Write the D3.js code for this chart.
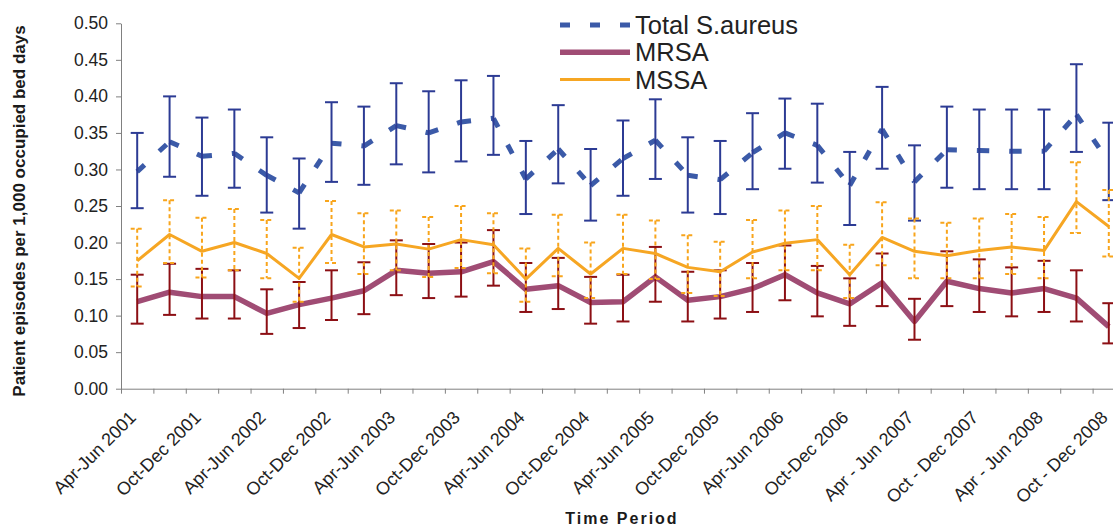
<!DOCTYPE html>
<html>
<head>
<meta charset="utf-8">
<script src="https://cdn.jsdelivr.net/npm/d3@7"></script>
<style>
  body { margin: 0; background: #fff; }
  svg { display: block; font-family: Arial, "Liberation Sans", sans-serif; }
</style>
</head>
<body>
<div id="chart"></div>
<script>
// quarters shown on the x axis
const categories = [
  'Apr-Jun 2001', 'Jul-Sep 2001', 'Oct-Dec 2001',
  'Jan-Mar 2002', 'Apr-Jun 2002', 'Jul-Sep 2002', 'Oct-Dec 2002',
  'Jan-Mar 2003', 'Apr-Jun 2003', 'Jul-Sep 2003', 'Oct-Dec 2003',
  'Jan-Mar 2004', 'Apr-Jun 2004', 'Jul-Sep 2004', 'Oct-Dec 2004',
  'Jan-Mar 2005', 'Apr-Jun 2005', 'Jul-Sep 2005', 'Oct-Dec 2005',
  'Jan-Mar 2006', 'Apr-Jun 2006', 'Jul-Sep 2006', 'Oct-Dec 2006',
  'Jan-Mar 2007', 'Apr - Jun 2007', 'Jul - Sep 2007', 'Oct - Dec 2007',
  'Jan - Mar 2008', 'Apr - Jun 2008', 'Jul - Sep 2008', 'Oct - Dec 2008'
];
// only every other quarter carries a label
const tickLabels = [
  'Apr-Jun 2001', 'Oct-Dec 2001', 'Apr-Jun 2002', 'Oct-Dec 2002',
  'Apr-Jun 2003', 'Oct-Dec 2003', 'Apr-Jun 2004', 'Oct-Dec 2004',
  'Apr-Jun 2005', 'Oct-Dec 2005', 'Apr-Jun 2006', 'Oct-Dec 2006',
  'Apr - Jun 2007', 'Oct - Dec 2007', 'Apr - Jun 2008', 'Oct - Dec 2008'
];
const yTicks = [0, 0.05, 0.10, 0.15, 0.20, 0.25, 0.30, 0.35, 0.40, 0.45, 0.50];

// Total S.aureus rate and 95% CI
const totalRate = [0.297, 0.338, 0.318, 0.322, 0.292, 0.268, 0.336, 0.332, 0.360, 0.350, 0.365,
  0.370, 0.287, 0.328, 0.278, 0.315, 0.340, 0.292, 0.286, 0.323, 0.350, 0.333, 0.278, 0.355,
  0.283, 0.327, 0.326, 0.325, 0.325, 0.375, 0.310];
const totalUpper = [0.350, 0.400, 0.371, 0.382, 0.344, 0.315, 0.392, 0.386, 0.418, 0.407, 0.422,
  0.428, 0.339, 0.388, 0.328, 0.367, 0.396, 0.344, 0.339, 0.377, 0.397, 0.390, 0.324, 0.413,
  0.333, 0.386, 0.382, 0.382, 0.382, 0.444, 0.364];
const totalLower = [0.247, 0.290, 0.264, 0.275, 0.241, 0.219, 0.283, 0.279, 0.307, 0.296, 0.311,
  0.320, 0.239, 0.281, 0.230, 0.264, 0.287, 0.241, 0.239, 0.273, 0.301, 0.282, 0.224, 0.301,
  0.230, 0.275, 0.273, 0.273, 0.273, 0.324, 0.258];

// MRSA
const mrsaRate = [0.119, 0.132, 0.126, 0.126, 0.103, 0.115, 0.124, 0.134, 0.162, 0.158, 0.160,
  0.174, 0.136, 0.141, 0.118, 0.119, 0.153, 0.121, 0.126, 0.137, 0.156, 0.131, 0.116, 0.145,
  0.092, 0.147, 0.137, 0.131, 0.137, 0.124, 0.085];
const mrsaUpper = [0.156, 0.171, 0.164, 0.162, 0.136, 0.146, 0.162, 0.173, 0.203, 0.198, 0.200,
  0.217, 0.172, 0.179, 0.153, 0.156, 0.194, 0.160, 0.162, 0.172, 0.196, 0.168, 0.151, 0.185,
  0.123, 0.188, 0.177, 0.166, 0.175, 0.162, 0.117];
const mrsaLower = [0.089, 0.101, 0.096, 0.096, 0.075, 0.083, 0.094, 0.102, 0.128, 0.124, 0.126,
  0.141, 0.105, 0.109, 0.089, 0.092, 0.119, 0.092, 0.096, 0.105, 0.121, 0.099, 0.086, 0.113,
  0.067, 0.113, 0.105, 0.099, 0.105, 0.092, 0.062];

// MSSA
const mssaRate = [0.175, 0.211, 0.188, 0.200, 0.185, 0.151, 0.211, 0.194, 0.198, 0.191, 0.204,
  0.197, 0.150, 0.192, 0.157, 0.192, 0.185, 0.166, 0.160, 0.187, 0.199, 0.204, 0.156, 0.207,
  0.188, 0.182, 0.189, 0.194, 0.189, 0.256, 0.222];
const mssaUpper = [0.219, 0.258, 0.234, 0.246, 0.231, 0.193, 0.257, 0.240, 0.244, 0.235, 0.250,
  0.240, 0.192, 0.238, 0.200, 0.238, 0.230, 0.210, 0.201, 0.231, 0.244, 0.250, 0.197, 0.255,
  0.233, 0.227, 0.233, 0.239, 0.235, 0.310, 0.272];
const mssaLower = [0.140, 0.172, 0.152, 0.162, 0.151, 0.119, 0.172, 0.157, 0.162, 0.153, 0.165,
  0.158, 0.119, 0.154, 0.124, 0.157, 0.150, 0.131, 0.127, 0.151, 0.162, 0.162, 0.124, 0.169,
  0.151, 0.151, 0.151, 0.157, 0.151, 0.213, 0.181];

const series = [
  { name: 'Total S.aureus', values: totalRate, upper: totalUpper, lower: totalLower,
    color: '#3b5aa8', lineWidth: 5, dash: '10,20', barColor: '#2c3b94', barDash: null },
  { name: 'MRSA', values: mrsaRate, upper: mrsaUpper, lower: mrsaLower,
    color: '#a04c74', lineWidth: 5.5, dash: null, barColor: '#8c0f14', barDash: null },
  { name: 'MSSA', values: mssaRate, upper: mssaUpper, lower: mssaLower,
    color: '#f6a623', lineWidth: 3, dash: null, barColor: '#f8a51c', barDash: '4,3' }
];

const width = 1113;
const height = 526;
const margin = { top: 23.3, left: 121 };
const plotWidth = 1004;   // runs past the right edge of the picture
const plotHeight = 365.4;
const fontFamily = 'Arial, "Liberation Sans", sans-serif';

const svg = d3.select('#chart').append('svg')
  .attr('width', width)
  .attr('height', height);

const x = d3.scaleBand()
  .domain(categories)
  .range([margin.left, margin.left + plotWidth]);
const xEdge = d3.scaleLinear()
  .domain([0, categories.length])
  .range([margin.left, margin.left + plotWidth]);
const y = d3.scaleLinear()
  .domain([0, 0.5])
  .range([margin.top + plotHeight, margin.top]);
const cx = (i) => x(categories[i]) + x.bandwidth() / 2;

// y axis
const yAxis = svg.append('g')
  .attr('transform', `translate(${margin.left},0)`)
  .call(d3.axisLeft(y).tickValues(yTicks).tickFormat(d3.format('.2f'))
    .tickSize(5).tickSizeOuter(0).tickPadding(8));
yAxis.selectAll('path, line').attr('stroke', '#808080');
yAxis.selectAll('text')
  .attr('fill', '#222')
  .style('font-size', '17.5px')
  .style('font-family', fontFamily);

// x axis: ticks between quarters
const xAxis = svg.append('g')
  .attr('transform', `translate(0,${y(0)})`)
  .call(d3.axisBottom(xEdge).tickValues(d3.range(categories.length + 1))
    .tickFormat('').tickSize(5).tickSizeOuter(0));
xAxis.selectAll('path, line').attr('stroke', '#808080');

// x labels, rotated
const xLabels = svg.append('g')
  .attr('transform', `translate(0,${y(0)})`)
  .call(d3.axisBottom(x).tickValues(tickLabels).tickSize(0));
xLabels.select('.domain').remove();
xLabels.selectAll('text')
  .attr('x', 0)
  .attr('y', 0)
  .attr('dy', 0)
  .attr('transform', 'translate(0,30) rotate(-45)')
  .style('text-anchor', 'end')
  .style('font-size', '18px')
  .style('font-family', fontFamily)
  .attr('fill', '#222');

// axis titles
svg.append('text')
  .attr('transform', 'translate(24.5,211) rotate(-90)')
  .attr('text-anchor', 'middle')
  .style('font-size', '17px')
  .style('font-weight', 'bold')
  .attr('fill', '#1a1a1a')
  .text('Patient episodes per 1,000 occupied bed days');
svg.append('text')
  .attr('x', 622)
  .attr('y', 524)
  .attr('text-anchor', 'middle')
  .style('font-size', '16px')
  .style('font-weight', 'bold')
  .style('letter-spacing', '2px')
  .attr('fill', '#1a1a1a')
  .text('Time Period');

// series lines and error bars
series.forEach((s) => {
  const g = svg.append('g');
  if (s.dash) {
    // dashed line restarts its pattern at every point
    g.selectAll('line.seg')
      .data(d3.range(s.values.length - 1))
      .enter().append('line')
      .attr('x1', (i) => cx(i))
      .attr('y1', (i) => y(s.values[i]))
      .attr('x2', (i) => cx(i + 1))
      .attr('y2', (i) => y(s.values[i + 1]))
      .attr('stroke', s.color)
      .attr('stroke-width', s.lineWidth)
      .attr('stroke-dasharray', s.dash);
  } else {
    g.append('path')
      .datum(s.values)
      .attr('fill', 'none')
      .attr('stroke', s.color)
      .attr('stroke-width', s.lineWidth)
      .attr('stroke-linejoin', 'round')
      .attr('d', d3.line().x((d, i) => cx(i)).y((d) => y(d)));
  }
  const bars = g.selectAll('g.bar')
    .data(d3.range(s.values.length))
    .enter().append('g')
    .attr('stroke', s.barColor)
    .attr('stroke-width', 2)
    .attr('stroke-dasharray', s.barDash);
  bars.append('line')
    .attr('x1', (i) => cx(i)).attr('x2', (i) => cx(i))
    .attr('y1', (i) => y(s.upper[i])).attr('y2', (i) => y(s.lower[i]));
  bars.append('line')
    .attr('x1', (i) => cx(i) - 6.5).attr('x2', (i) => cx(i) + 6.5)
    .attr('y1', (i) => y(s.upper[i])).attr('y2', (i) => y(s.upper[i]));
  bars.append('line')
    .attr('x1', (i) => cx(i) - 6.5).attr('x2', (i) => cx(i) + 6.5)
    .attr('y1', (i) => y(s.lower[i])).attr('y2', (i) => y(s.lower[i]));
});

// legend
const legend = svg.append('g').attr('transform', 'translate(560,25)');
const legendRow = legend.selectAll('g')
  .data(series)
  .enter().append('g')
  .attr('transform', (d, i) => `translate(0,${i * 27.3})`);
legendRow.append('line')
  .attr('x1', 0).attr('x2', 70)
  .attr('stroke', (d) => d.color)
  .attr('stroke-width', (d) => d.lineWidth)
  .attr('stroke-dasharray', (d) => d.dash);
legendRow.append('text')
  .attr('x', 75)
  .attr('y', 9)
  .style('font-size', '25.5px')
  .attr('fill', '#222')
  .text((d) => d.name);
</script>
</body>
</html>
